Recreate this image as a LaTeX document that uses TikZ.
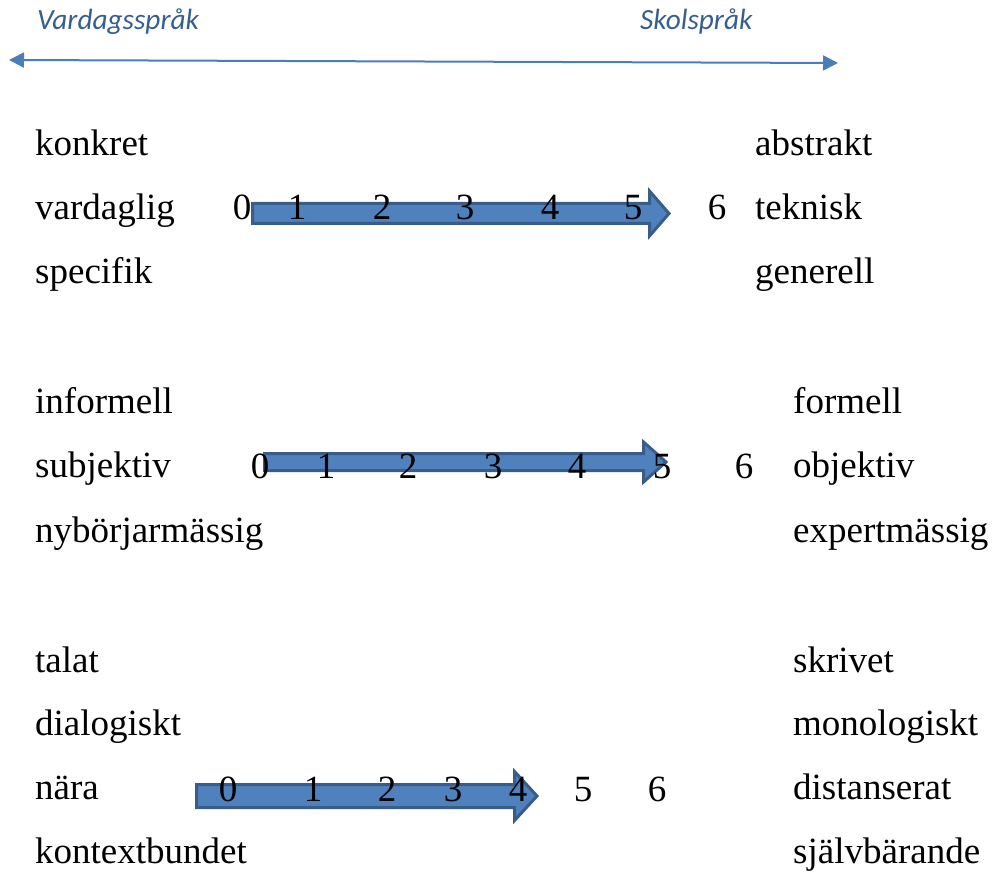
\documentclass[tikz,border=0pt]{standalone}
\usepackage{fontspec}
\setmainfont{Liberation Serif}
\newfontfamily\headfont{Carlito}
\usetikzlibrary{arrows.meta,positioning}
\definecolor{headblue}{RGB}{54,95,145}
\definecolor{lineblue}{RGB}{74,126,187}
\definecolor{arrowfill}{RGB}{79,129,189}
\definecolor{arrowdraw}{RGB}{56,93,138}
\tikzset{
	word/.style={
		anchor=base west,
		inner sep=0pt,
		font=\fontsize{37}{40}\selectfont,
	},
	num/.style={
		anchor=base,
		inner sep=0pt,
		font=\fontsize{37}{40}\selectfont,
	},
	head/.style={
		anchor=base west,
		inner sep=0pt,
		text=headblue,
		font=\headfont\itshape\fontsize{29.3}{31}\selectfont,
	},
	scalearrow/.style={
		fill=arrowfill,
		draw=arrowdraw,
		line width=3pt,
		line join=miter,
	},
}
% start, head base, tip, centre y, shaft half, head half
\newcommand{\blockarrow}[6]{%
	\draw[scalearrow] (#1,{#4-#5}) -- (#2,{#4-#5}) -- (#2,{#4-#6}) -- (#3,#4)
		-- (#2,{#4+#6}) -- (#2,{#4+#5}) -- (#1,{#4+#5}) -- cycle;}

\begin{document}
\begin{tikzpicture}[x=1pt, y=-1pt]
				\useasboundingbox (0,0) rectangle (995,874);
				
				% axis at the top
				\node [head] (vardagsprak) at (37,30) {Vardagsspråk};
				\node [head] (skolsprak) at (640,30) {Skolspråk};
				\coordinate (vardag) at (9,60);
				\coordinate (skol) at (838,63);
				\draw [lineblue, line width=2pt, {Triangle[length=15pt,width=15pt]}-{Triangle[length=15pt,width=15pt]}] (vardag) -- (skol);
				
				% first group
				\node [word] (konkret) at (35,156) {konkret};
				\node [word] (vardaglig) at (35,220) {vardaglig};
				\node [word] (specifik) at (35,284) {specifik};
				\node [word] (abstrakt) at (755,156) {abstrakt};
				\node [word] (teknisk) at (755,220) {teknisk};
				\node [word] (generell) at (755,284) {generell};
				\blockarrow{252.5}{649.5}{669}{213.5}{10}{22.5}
				\foreach \n/\x in {0/242,1/297,2/382,3/465,4/550,5/633,6/717}
					\node [num] (a\n) at (\x,220) {\n};
				
				% second group
				\node [word] (informell) at (35,413) {informell};
				\node [word] (subjektiv) at (35,477) {subjektiv};
				\node [word] (nyborjar) at (35,542) {nybörjarmässig};
				\node [word] (formell) at (793,413) {formell};
				\node [word] (objektiv) at (793,477) {objektiv};
				\node [word] (expert) at (793,542) {expertmässig};
				\blockarrow{264.5}{643.5}{666}{462}{8.5}{20}
				\foreach \n/\x in {0/260,1/326,2/408,3/493,4/577,5/662,6/744}
					\node [num] (b\n) at (\x,478) {\n};
				
				% third group
				\node [word] (talat) at (35,672) {talat};
				\node [word] (dialogiskt) at (35,735) {dialogiskt};
				\node [word] (nara) at (35,799) {nära};
				\node [word] (kontext) at (35,863) {kontextbundet};
				\node [word] (skrivet) at (793,672) {skrivet};
				\node [word] (monologiskt) at (793,735) {monologiskt};
				\node [word] (distans) at (793,799) {distanserat};
				\node [word] (sjalv) at (793,863) {självbärande};
				\blockarrow{196.5}{514.5}{537}{796}{11.5}{24.5}
				\foreach \n/\x in {0/228,1/313,2/387,3/453,4/518,5/583,6/657}
					\node [num] (c\n) at (\x,801) {\n};
			\end{tikzpicture}
\end{document}
